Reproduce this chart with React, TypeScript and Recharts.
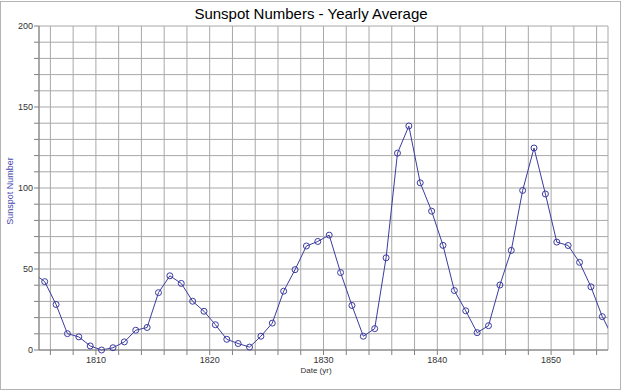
import React from 'react';
import { LineChart, Line, XAxis, YAxis, CartesianGrid } from 'recharts';

// yearly means, plotted at mid-year
const years = [
  1804, 1805, 1806, 1807, 1808, 1809, 1810, 1811, 1812, 1813, 1814, 1815, 1816, 1817,
  1818, 1819, 1820, 1821, 1822, 1823, 1824, 1825, 1826, 1827, 1828, 1829, 1830, 1831,
  1832, 1833, 1834, 1835, 1836, 1837, 1838, 1839, 1840, 1841, 1842, 1843, 1844, 1845,
  1846, 1847, 1848, 1849, 1850, 1851, 1852, 1853, 1854, 1855,
];
const sunspots = [
  47.5, 42.2, 28.1, 10.1, 8.1, 2.5, 0.0, 1.4, 5.0, 12.2, 13.9, 35.4, 45.8, 41.1,
  30.1, 23.9, 15.6, 6.6, 4.0, 1.8, 8.5, 16.6, 36.3, 49.6, 64.2, 67.0, 70.9, 47.8,
  27.5, 8.5, 13.2, 56.9, 121.5, 138.3, 103.2, 85.7, 64.6, 36.7, 24.2, 10.7, 15.0, 40.1,
  61.5, 98.5, 124.7, 96.3, 66.6, 64.5, 54.1, 39.0, 20.6, 6.7,
];
const xTicks = [
  1806, 1808, 1810, 1812, 1814, 1816, 1818, 1820, 1822, 1824, 1826, 1828, 1830, 1832,
  1834, 1836, 1838, 1840, 1842, 1844, 1846, 1848, 1850, 1852, 1854,
];
const yTicks = [0, 10, 20, 30, 40, 50, 60, 70, 80, 90, 100, 110, 120, 130, 140, 150, 160, 170, 180, 190, 200];

const data = years.map((y, i) => ({ year: y + 0.5, value: sunspots[i] }));

const font = '"Liberation Sans", Arial, sans-serif';
const blue = '#3b3ba0';

export default function App() {
  return (
    <div
      style={{
        position: 'absolute',
        left: 0,
        top: 0,
        width: 624,
        height: 392,
        background: '#fff',
        fontFamily: font,
      }}
    >
      <div
        style={{
          position: 'absolute',
          left: 0,
          top: 1,
          width: 621,
          height: 389,
          border: '1px solid #b4b4b4',
          boxSizing: 'border-box',
        }}
      />
      <LineChart
        width={624}
        height={392}
        data={data}
        margin={{ top: 26, right: 16, bottom: 0, left: 0 }}
      >
        <CartesianGrid stroke="#a8a8a8" strokeWidth={1} />
        <XAxis
          dataKey="year"
          type="number"
          domain={[1805, 1855]}
          allowDataOverflow
          ticks={xTicks}
          tickFormatter={(v: number) => (v % 10 === 0 ? String(v) : '')}
          height={42}
          stroke="#808080"
          tickSize={5}
          tick={{ fill: '#333', fontSize: 9, fontFamily: font }}
          tickMargin={2}
        />
        <YAxis
          type="number"
          domain={[0, 200]}
          ticks={yTicks}
          tickFormatter={(v: number) => (v % 50 === 0 ? String(v) : '')}
          width={39}
          stroke="#808080"
          tickSize={5}
          tick={{ fill: '#333', fontSize: 9, fontFamily: font }}
          tickMargin={1}
        />
        <Line
          dataKey="value"
          stroke={blue}
          strokeWidth={1}
          dot={{ r: 3, stroke: blue, strokeWidth: 1, fill: 'none' }}
          isAnimationActive={false}
        />
        <text x={311} y={19} textAnchor="middle" fontSize={15} fontFamily={font} fill="#000">
          Sunspot Numbers - Yearly Average
        </text>
        <text x={316} y={373} textAnchor="middle" fontSize={8} fontFamily={font} fill="#333">
          Date (yr)
        </text>
        <text
          x={13}
          y={191}
          textAnchor="middle"
          fontSize={9}
          fontFamily={font}
          fill="#4848b0"
          transform="rotate(-90 13 191)"
        >
          Sunspot Number
        </text>
      </LineChart>
    </div>
  );
}
